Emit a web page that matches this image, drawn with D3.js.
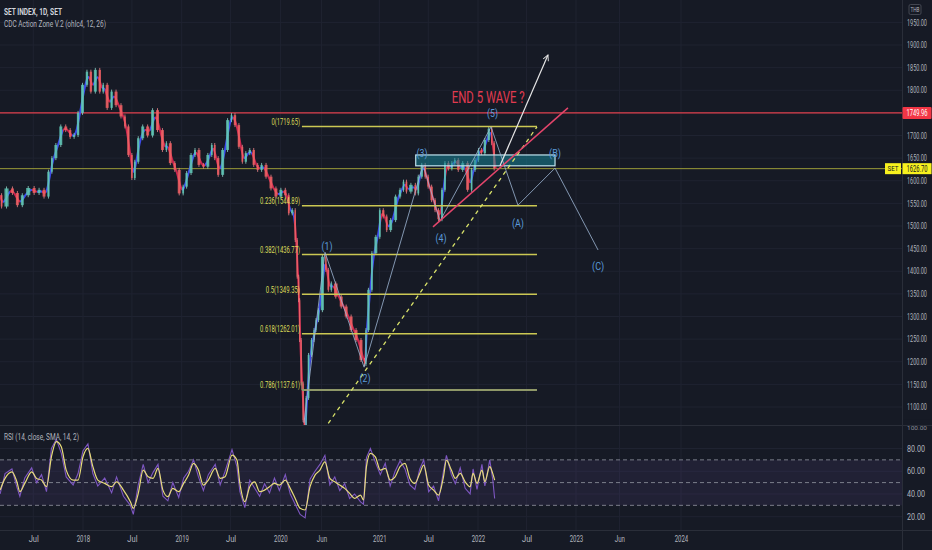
<!DOCTYPE html>
<html><head><meta charset="utf-8">
<script src="https://cdn.jsdelivr.net/npm/d3@7"></script>
<style>html,body{margin:0;padding:0;background:#161a25;overflow:hidden}svg{display:block}</style>
</head><body><svg id="c" width="932" height="550"></svg>
<script>
// ---------- DATA ----------
// decimal years of sampled SET INDEX closes
const priceDates = [2017.16,2017.19,2017.26,2017.31,2017.36,2017.41,2017.48,2017.53,2017.58,2017.63,
2017.67,2017.70,2017.75,2017.80,2017.85,2017.89,2017.93,2017.97,2018.02,2018.06,
2018.10,2018.15,2018.19,2018.22,2018.27,2018.31,2018.36,2018.41,2018.44,2018.48,
2018.51,2018.54,2018.58,2018.63,2018.68,2018.73,2018.78,2018.83,2018.86,2018.91,
2018.95,2019.00,2019.03,2019.07,2019.12,2019.15,2019.20,2019.24,2019.29,2019.32,
2019.35,2019.39,2019.44,2019.49,2019.52,2019.56,2019.60,2019.63,2019.67,2019.71,
2019.75,2019.79,2019.83,2019.88,2019.93,2019.98,2020.03,2020.07,2020.10,2020.14,
2020.16,2020.18,2020.19,2020.20,2020.22,2020.24,2020.25,2020.27,2020.30,2020.33,
2020.35,2020.37,2020.40,2020.45,2020.47,2020.50,2020.53,2020.59,2020.64,2020.69,
2020.74,2020.79,2020.84,2020.86,2020.87,2020.91,2020.94,2020.99,2021.02,2021.06,
2021.09,2021.14,2021.19,2021.23,2021.26,2021.29,2021.35,2021.38,2021.41,2021.45,
2021.48,2021.51,2021.55,2021.58,2021.62,2021.65,2021.68,2021.72,2021.75,2021.78,
2021.82,2021.87,2021.92,2021.95,2021.99,2022.02,2022.05,2022.09,2022.13,2022.15,
2022.18];
const priceValues = [1568,1543,1583,1573,1546,1568,1584,1573,1580,1565,
1620,1650,1679,1720,1712,1697,1701,1750,1812,1841,
1797,1845,1797,1812,1761,1797,1767,1742,1720,1657,
1606,1642,1694,1720,1700,1756,1712,1668,1683,1639,
1624,1572,1587,1617,1657,1668,1635,1631,1657,1679,
1650,1613,1668,1734,1745,1723,1675,1642,1661,1668,
1635,1624,1635,1609,1583,1565,1580,1568,1528,1535,
1469,1388,1336,1248,1152,1071,1040,1120,1215,1248,
1270,1292,1314,1432,1403,1359,1373,1344,1322,1300,
1270,1248,1204,1195,1270,1359,1440,1476,1535,1521,
1491,1513,1565,1580,1598,1576,1591,1572,1609,1635,
1609,1587,1557,1535,1515,1580,1639,1627,1639,1646,
1624,1639,1580,1624,1646,1668,1661,1690,1715,1683,
1627];

const rsiDates = [2017.16,2017.21,2017.28,2017.33,2017.36,2017.41,2017.48,2017.53,2017.58,2017.63,
2017.68,2017.73,2017.78,2017.83,2017.90,2017.95,2018.00,2018.05,2018.10,2018.15,
2018.22,2018.29,2018.34,2018.41,2018.48,2018.51,2018.56,2018.61,2018.66,2018.71,
2018.76,2018.81,2018.86,2018.91,2018.97,2019.02,2019.07,2019.12,2019.17,2019.22,
2019.27,2019.34,2019.39,2019.44,2019.51,2019.56,2019.59,2019.64,2019.69,2019.74,
2019.79,2019.84,2019.89,2019.94,2019.99,2020.05,2020.10,2020.15,2020.20,2020.25,
2020.30,2020.35,2020.40,2020.45,2020.50,2020.55,2020.60,2020.65,2020.70,2020.75,
2020.81,2020.84,2020.87,2020.91,2020.96,2021.01,2021.06,2021.11,2021.16,2021.21,
2021.26,2021.31,2021.36,2021.41,2021.45,2021.50,2021.55,2021.60,2021.65,2021.68,
2021.73,2021.77,2021.82,2021.87,2021.92,2021.95,2021.99,2022.04,2022.07,2022.12,
2022.15,2022.17];
const rsiValues = [40,58,62,46,38,54,63,50,57,42,
80,88,76,55,48,58,78,84,58,47,
54,41,55,38,30,22,48,66,50,59,
66,38,34,50,37,54,60,70,55,43,
57,66,48,60,79,64,42,28,52,45,
38,49,41,54,43,57,40,31,22,19,
53,60,66,74,48,55,43,49,36,40,
33,31,72,80,68,57,67,47,60,69,
62,48,44,62,70,42,47,34,60,74,
57,49,63,45,40,62,44,66,47,70,
53,36];
const rsiMA = [43.4,53.7,59.5,50.7,42,49.3,59.5,53.7,52.2,46.4,
72.7,86,81.5,61,52.2,52.2,72.7,80.1,64,52.2,
49.3,46.4,50.7,43.4,33.2,27.4,40.5,61,55.1,53.7,
62.5,43.4,37.6,44.9,42,49.3,56.6,66.9,61,47.8,
52.2,62.5,53.7,55.1,74.2,69.8,49.3,33.2,46.4,50.7,
42,43.4,46.4,49.3,47.8,52.2,44.9,36.1,27.4,25.9,
46.4,56.6,61,68.3,53.7,50.7,47.8,44.9,40.5,36.1,
39,34.7,64,75.7,72.7,61,62.5,52.2,55.1,64,
66.9,53.7,49.3,58.1,65.4,47.8,43.4,39,55.1,69.8,
61,53.7,58.1,50.7,46.4,58.1,49.3,61,50.7,64,
58.1,52.2];

const priceTicks = [1100,1150,1200,1250,1300,1350,1400,1450,1500,1550,1600,1650,1700,1750,1800,1850,1900,1950];
const rsiTicks = [20,40,60,80,100];
const rsiBands = [70,50,30];
const timeTicks = ["2017-07-01","2018-01-01","2018-07-01","2019-01-01","2019-07-01","2020-01-01","2020-06-01","2021-01-01","2021-07-01","2022-01-01","2022-07-01","2023-01-01","2023-06-01","2024-01-01"];
const timeTickLabels = ["Jul","2018","Jul","2019","Jul","2020","Jun","2021","Jul","2022","Jul","2023","Jun","2024"];

const fibLevels = [0,0.236,0.382,0.5,0.618,0.786];
const fibPrices = [1719.65,1544.89,1436.77,1349.35,1262.01,1137.61];
const fibRange = [2020.218,2022.602];

const waveLabels = ["(1)","(2)","(3)","(4)","(5)","(A)","(B)","(C)"];
const waveLabelDates = [2020.471,2020.856,2021.433,2021.625,2022.148,2022.408,2022.786,2023.21];
const waveLabelPrices = [1456,1164,1661,1473,1750,1507,1661,1412];
const wavePathDates = [2020.238,2020.451,2020.846,2021.443,2021.615,2022.133,2022.408,2022.786,2023.21];
const wavePathPrices = [1065,1442,1188,1635,1511,1719,1546,1628,1447];

const trendPinkDates = [2021.544,2022.918];
const trendPinkPrices = [1498,1761];
const trendDashDates = [2020.484,2022.602];
const trendDashPrices = [1064,1719];
const arrowDates = [2022.224,2022.714];
const arrowPrices = [1633,1878];
const boxDates = [2021.369,2022.786];
const boxPrices = [1657,1633];
const noteText = "END 5 WAVE ?";
const noteDate = 2021.734, notePrice = 1772;
const resistancePrice = 1749.96;
const lastPrice = 1626.70;

// ---------- SETUP ----------
const W=932,H=550,PR=902,MB=425,RT=425,RB=530;
const svg=d3.select("#c");
const FONT="Roboto, 'Noto Sans', 'DejaVu Sans', sans-serif";
const toDate=t=>{const yy=Math.floor(t);const a=Date.UTC(yy,0,1),b=Date.UTC(yy+1,0,1);return new Date(a+(t-yy)*(b-a));};
const x=d3.scaleUtc().domain([Date.UTC(2018,0,1),Date.UTC(2022,0,1),Date.UTC(2023,0,1),Date.UTC(2024,0,1)].map(d=>new Date(d))).range([83,478,576,681]);
const y=d3.scaleLinear().domain([1100,1900]).range([407,45]);
const yr=d3.scaleLinear().domain([20,80]).range([516.7,448.5]);
const X=t=>x(toDate(t));

svg.append("rect").attr("width",W).attr("height",H).attr("fill","#161a25");
const defs=svg.append("defs");
defs.append("clipPath").attr("id","cm").append("rect").attr("x",0).attr("y",0).attr("width",PR).attr("height",MB);
defs.append("clipPath").attr("id","cr").append("rect").attr("x",0).attr("y",RT).attr("width",PR).attr("height",RB-RT);
const mk=defs.append("marker").attr("id","arr").attr("viewBox","0 -5 10 10").attr("refX",9).attr("refY",0)
  .attr("markerWidth",7).attr("markerHeight",7).attr("orient","auto").attr("markerUnits","userSpaceOnUse");
mk.append("path").attr("d","M1,-4L9,0L1,4").attr("fill","none").attr("stroke","#e6e6e6").attr("stroke-width",1.3);

// horizontally condense a text element to a target width (keeps real bbox honest)
function condense(node,len){
  const w=node.getComputedTextLength();if(!w)return;
  const px=+node.getAttribute("x")||0,py=+node.getAttribute("y")||0;
  node.setAttribute("x",0);node.setAttribute("y",0);
  node.setAttribute("transform",`translate(${px},${py}) scale(${(len/w).toFixed(4)},1)`);
}
function txt(g,s,px,py,o){o=o||{};const t=g.append("text").attr("x",px).attr("y",py).text(s)
  .attr("font-family",o.family||FONT).attr("font-size",o.size||8).attr("fill",o.fill||"#b2b5be")
  .attr("text-anchor",o.anchor||"start");
  if(o.weight)t.attr("font-weight",o.weight);
  if(o.dy)t.attr("dy",o.dy);
  if(o.len)condense(t.node(),o.len);
  return t;}

// ---------- GRID ----------
const grid=svg.append("g");
grid.selectAll(".hg").data(priceTicks).join("line").attr("x1",0).attr("x2",PR)
  .attr("y1",d=>y(d)).attr("y2",d=>y(d)).attr("stroke","#1f2331").attr("stroke-width",1);
grid.selectAll(".vg").data(timeTicks).join("line").attr("y1",0).attr("y2",RB)
  .attr("x1",d=>x(new Date(d))).attr("x2",d=>x(new Date(d))).attr("stroke","#1f2331").attr("stroke-width",1);
grid.selectAll(".rg").data(rsiTicks.filter(d=>d<100)).join("line").attr("x1",0).attr("x2",PR)
  .attr("y1",d=>yr(d)).attr("y2",d=>yr(d)).attr("stroke","#1f2331");

// ---------- MAIN PANE ----------
const main=svg.append("g").attr("clip-path","url(#cm)");
main.append("line").attr("x1",0).attr("x2",PR).attr("y1",y(resistancePrice)).attr("y2",y(resistancePrice))
  .attr("stroke","#e0414d").attr("stroke-width",1.3);
main.append("line").attr("x1",0).attr("x2",PR).attr("y1",y(lastPrice)).attr("y2",y(lastPrice))
  .attr("stroke","#9c9c38").attr("stroke-width",1);

const pts=priceDates.map((t,i)=>({d:toDate(t),v:priceValues[i]}));
// CDC line coloured by direction (drawn under the bars)
const grad=defs.append("linearGradient").attr("id","cdc").attr("gradientUnits","userSpaceOnUse")
  .attr("x1",0).attr("x2",PR).attr("y1",0).attr("y2",0);
for(let i=1;i<pts.length;i++){
  const col=pts[i].v>=pts[i-1].v?"#3d4cf5":"#d4244f";
  grad.append("stop").attr("offset",x(pts[i-1].d)/PR).attr("stop-color",col);
  grad.append("stop").attr("offset",x(pts[i].d)/PR).attr("stop-color",col);
}
main.append("path").datum(pts).attr("d",d3.line().x(d=>x(d.d)).y(d=>y(d.v)).curve(d3.curveBasis))
  .attr("fill","none").attr("stroke","url(#cdc)").attr("stroke-width",2).attr("opacity",0.95);
// candles
const cg=main.append("g");
for(let i=1;i<pts.length;i++){
  const x0=x(pts[i-1].d),x1=x(pts[i].d);const o=pts[i-1].v,c=pts[i].v;
  const w=Math.max(1.2,(x1-x0)*0.6);const cx=(x0+x1)/2;
  const top=y(Math.max(o,c)),bot=y(Math.min(o,c));
  cg.append("line").attr("x1",cx).attr("x2",cx).attr("y1",top-2).attr("y2",bot+2)
    .attr("stroke",c>=o?"#8fd6c9":"#f0868a").attr("stroke-width",0.8);
  cg.append("rect").attr("x",cx-w/2).attr("width",w).attr("y",top).attr("height",Math.max(1,bot-top))
    .attr("fill",c>=o?"#5ec4b4":"#ef5d62").attr("opacity",0.85);
}

// Fibonacci
const fx0=X(fibRange[0]),fx1=X(fibRange[1]);
fibLevels.forEach((l,i)=>{
  const yy=y(fibPrices[i]);
  main.append("line").attr("x1",fx0).attr("x2",fx1).attr("y1",yy).attr("y2",yy)
    .attr("stroke",i===5?"#8f9868":"#cbc853").attr("stroke-width",i===5?2:1.5);
});
main.append("line").attr("x1",fx0).attr("x2",fx0).attr("y1",y(fibPrices[5])-8).attr("y2",y(fibPrices[5]))
  .attr("stroke","#8f9868").attr("stroke-width",1);
fibLevels.forEach((l,i)=>{
  const s=`${l}(${fibPrices[i].toFixed(2)})`;
  txt(main,s,fx0-2,y(fibPrices[i])-1.5,{anchor:"end",size:8.5,fill:"#dcdc5a",len:s.length*2.85});
});

// box
main.append("rect").attr("x",X(boxDates[0])).attr("width",X(boxDates[1])-X(boxDates[0]))
  .attr("y",y(boxPrices[0])).attr("height",y(boxPrices[1])-y(boxPrices[0]))
  .attr("fill","rgba(24,132,150,0.55)").attr("stroke","#bfe3ee").attr("stroke-width",1.2);
// dashed trend
main.append("line").attr("x1",X(trendDashDates[0])).attr("y1",y(trendDashPrices[0]))
  .attr("x2",X(trendDashDates[1])).attr("y2",y(trendDashPrices[1]))
  .attr("stroke","#d9e36a").attr("stroke-width",1.3).attr("stroke-dasharray","4,4");
// wave path
const wp=wavePathDates.map((t,i)=>[X(t),y(wavePathPrices[i])]);
main.append("path").attr("d",d3.line()(wp)).attr("fill","none").attr("stroke","#9db5d3")
  .attr("stroke-width",1).attr("opacity",0.8);
// pink trend
main.append("line").attr("x1",X(trendPinkDates[0])).attr("y1",y(trendPinkPrices[0]))
  .attr("x2",X(trendPinkDates[1])).attr("y2",y(trendPinkPrices[1]))
  .attr("stroke","#e4456b").attr("stroke-width",1.5);
// white arrow
main.append("line").attr("x1",X(arrowDates[0])).attr("y1",y(arrowPrices[0]))
  .attr("x2",X(arrowDates[1])).attr("y2",y(arrowPrices[1]))
  .attr("stroke","#e6e6e6").attr("stroke-width",1.2).attr("marker-end","url(#arr)");
// wave labels
waveLabels.forEach((s,i)=>{
  txt(main,s,X(waveLabelDates[i]),y(waveLabelPrices[i]),{anchor:"middle",size:11,fill:"#5b9ad9",dy:"0.36em",len:/[ABC]/.test(s)?12:11});
});
// note
txt(main,noteText,X(noteDate),y(notePrice),{size:16,fill:"#e23b50",len:73});

// header
txt(svg,"SET INDEX, 1D, SET",4,15,{size:9.5,fill:"#d1d4dc",weight:"bold",len:58});
txt(svg,"CDC Action Zone V.2 (ohlc4, 12, 26)",4,26.5,{size:9,fill:"#b2b5be",len:102});

// ---------- RSI PANE ----------
const rp=svg.append("g").attr("clip-path","url(#cr)");
rp.append("rect").attr("x",0).attr("width",PR).attr("y",yr(70)).attr("height",yr(30)-yr(70))
  .attr("fill","rgba(126,87,194,0.11)");
rp.selectAll(".bd").data(rsiBands).join("line").attr("x1",0).attr("x2",PR)
  .attr("y1",d=>yr(d)).attr("y2",d=>yr(d)).attr("stroke","#7b7e8a").attr("stroke-width",1).attr("stroke-dasharray","4,3");
const rpts=rsiDates.map((t,i)=>({d:toDate(t),v:rsiValues[i],m:rsiMA[i]}));
rp.append("path").datum(rpts).attr("d",d3.line().x(d=>x(d.d)).y(d=>yr(d.v)))
  .attr("fill","none").attr("stroke","#7e57c2").attr("stroke-width",1.1);
rp.append("path").datum(rpts).attr("d",d3.line().x(d=>x(d.d)).y(d=>yr(d.m)).curve(d3.curveMonotoneX))
  .attr("fill","none").attr("stroke","#e8dc7a").attr("stroke-width",1.2);
txt(svg,"RSI (14, close, SMA, 14, 2)",4,440,{size:8.5,fill:"#b2b5be",len:75});

// ---------- SEPARATORS ----------
svg.append("line").attr("x1",PR+0.5).attr("x2",PR+0.5).attr("y1",0).attr("y2",H).attr("stroke","#2a2e39");
svg.append("line").attr("x1",0).attr("x2",W).attr("y1",MB+0.5).attr("y2",MB+0.5).attr("stroke","#2a2e39");
svg.append("line").attr("x1",0).attr("x2",W).attr("y1",RB+0.5).attr("y2",RB+0.5).attr("stroke","#2a2e39");

// ---------- AXES ----------
const ya=svg.append("g").attr("transform",`translate(${PR},0)`)
  .call(d3.axisRight(y).tickValues(priceTicks).tickFormat(d3.format(".2f")).tickSize(0).tickPadding(5));
ya.select(".domain").remove();
ya.selectAll("text").attr("font-family",FONT).attr("font-size",8.5).attr("fill","#b2b5be").each(function(){condense(this,20);});
const ra=svg.append("g").attr("transform",`translate(${PR},0)`)
  .call(d3.axisRight(yr).tickValues(rsiTicks.filter(d=>d<100)).tickFormat(d3.format(".2f")).tickSize(0).tickPadding(5));
ra.select(".domain").remove();
ra.selectAll("text").attr("font-family",FONT).attr("font-size",8.5).attr("fill","#b2b5be").each(function(){condense(this,18);});
// partially hidden 100.00 at the top edge of the RSI pane
txt(svg,"100.00",PR+5,yr(100)+4.5,{size:6,fill:"#8a8d96",len:20});
svg.append("rect").attr("x",PR+1).attr("y",yr(100)-6).attr("width",W-PR).attr("height",6).attr("fill","#161a25");
svg.append("line").attr("x1",PR).attr("x2",W).attr("y1",MB+0.5).attr("y2",MB+0.5).attr("stroke","#2a2e39");

const xa=svg.append("g").attr("transform",`translate(0,${RB})`)
  .call(d3.axisBottom(x).tickValues(timeTicks.map(d=>new Date(d))).tickFormat((d,i)=>timeTickLabels[i]).tickSize(0).tickPadding(6));
xa.select(".domain").remove();
xa.selectAll("text").attr("font-family",FONT).attr("font-size",8.5).attr("fill","#b2b5be").attr("text-anchor","start")
  .each(function(d,i){const L=timeTickLabels[i].length*3.4;this.setAttribute("x",-L/2);condense(this,L);});

// price labels
const rl=y(resistancePrice);
svg.append("rect").attr("x",PR+0.5).attr("y",rl-6).attr("width",29).attr("height",12).attr("fill","#f23645").attr("rx",1);
txt(svg,resistancePrice.toFixed(2),PR+4.5,rl,{size:8.5,fill:"#ffffff",dy:"0.34em",len:21});
const ll=y(lastPrice);
svg.append("rect").attr("x",885).attr("y",ll-5.5).attr("width",16).attr("height",11).attr("fill","#f7f11e");
txt(svg,"SET",887.5,ll,{size:8,fill:"#131722",dy:"0.34em",len:11});
svg.append("rect").attr("x",PR+0.5).attr("y",ll-5.5).attr("width",29).attr("height",11).attr("fill","#f7f11e");
txt(svg,lastPrice.toFixed(2),PR+4.5,ll,{size:8.5,fill:"#131722",dy:"0.34em",len:21});
// currency
svg.append("rect").attr("x",909).attr("y",4.5).attr("width",12).attr("height",10).attr("fill","none").attr("stroke","#434651").attr("rx",1.5);
txt(svg,"THB",910.5,12,{size:6.5,fill:"#b2b5be",len:9});
</script></body></html>
